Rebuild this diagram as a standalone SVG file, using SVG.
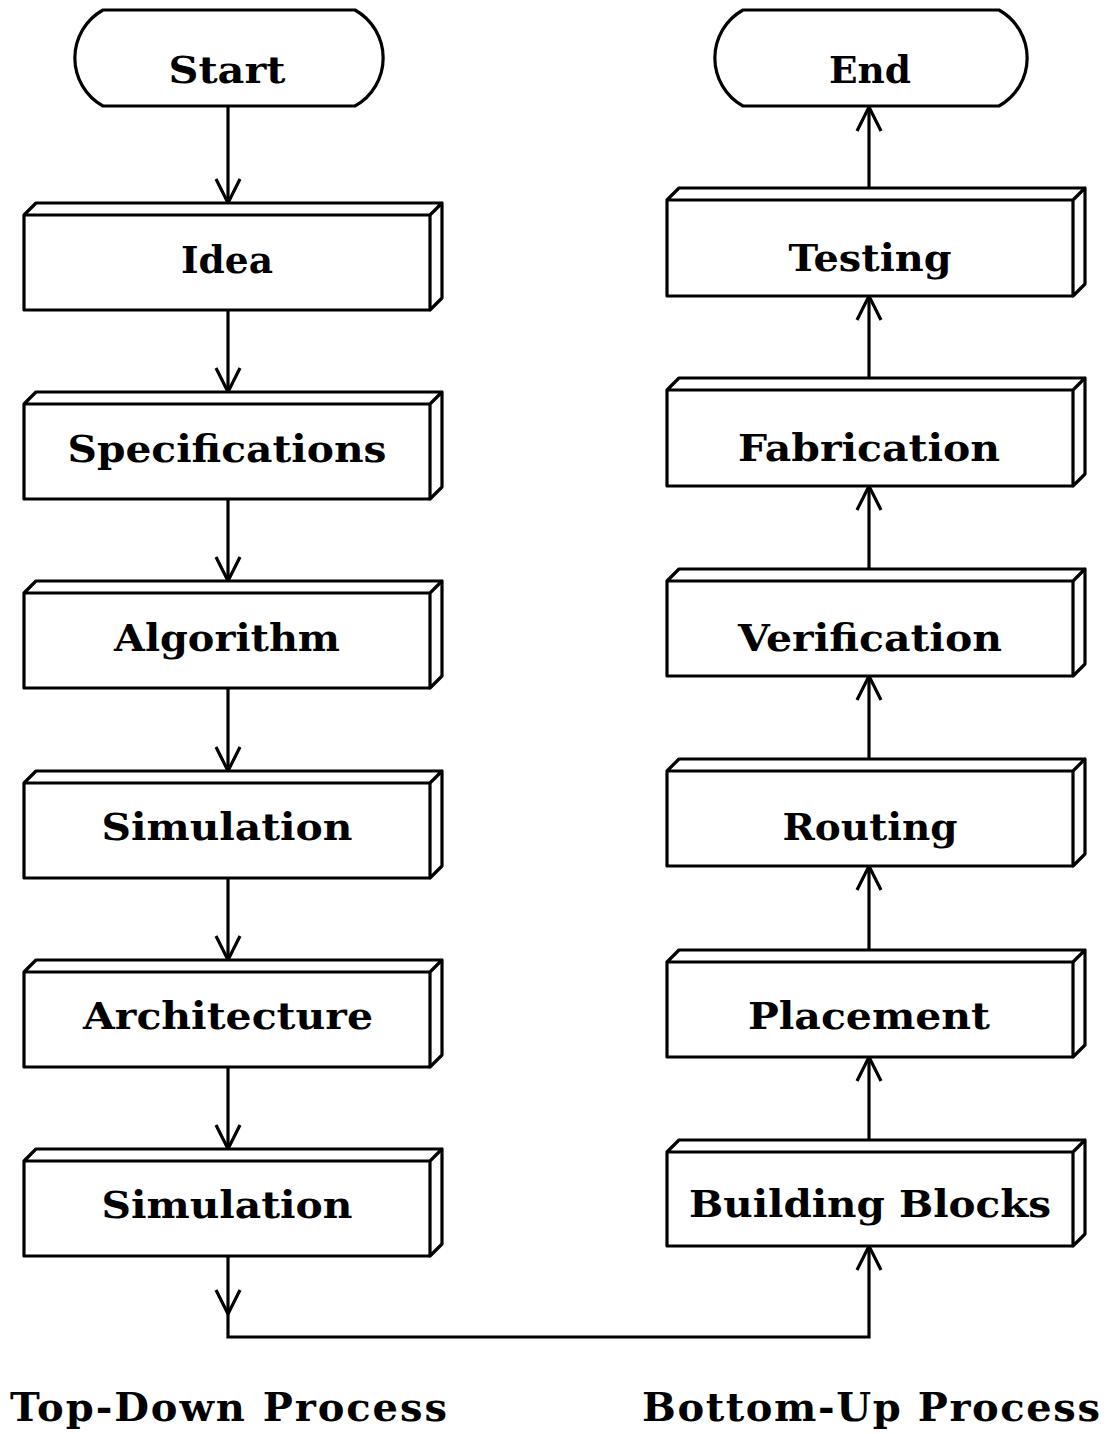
<svg xmlns="http://www.w3.org/2000/svg" width="1112" height="1434" viewBox="0 0 1112 1434">
  <style>
    .shape { fill: #fff; stroke: #000; stroke-width: 3.2; stroke-linejoin: round; }
    .wire { fill: none; stroke: #000; stroke-width: 3.2; }
    .lbl { font-family: "DejaVu Serif", "Liberation Serif", serif; font-weight: bold; font-size: 38px; fill: #000; text-anchor: middle; }
    .cap { font-family: "DejaVu Serif", "Liberation Serif", serif; font-weight: bold; font-size: 40px; fill: #000; }
  </style>
  <defs>
    <!-- open V arrowhead, tip on the path end -->
    <marker id="vhead" markerUnits="userSpaceOnUse" markerWidth="30" markerHeight="30" refX="24" refY="12" orient="auto" overflow="visible">
      <path d="M0,0 L24,12 L0,24" fill="none" stroke="#000" stroke-width="3.2" stroke-linejoin="miter"/>
    </marker>
  </defs>
  <rect width="1112" height="1434" fill="#fff"/>

  <!-- connectors -->
  <g id="connectors">
    <!-- top-down column -->
    <path class="wire" d="M228,106 V203" marker-end="url(#vhead)"/>
    <path class="wire" d="M228,310 V392" marker-end="url(#vhead)"/>
    <path class="wire" d="M228,499 V581" marker-end="url(#vhead)"/>
    <path class="wire" d="M228,688 V771" marker-end="url(#vhead)"/>
    <path class="wire" d="M228,878 V960" marker-end="url(#vhead)"/>
    <path class="wire" d="M228,1067 V1149" marker-end="url(#vhead)"/>
    <!-- hand-over from Simulation to Building Blocks -->
    <path class="wire" d="M228,1256 V1314" marker-end="url(#vhead)"/>
    <path class="wire" d="M228,1312 V1337 H869 V1246" marker-end="url(#vhead)"/>
    <!-- bottom-up column -->
    <path class="wire" d="M869,1140 V1057" marker-end="url(#vhead)"/>
    <path class="wire" d="M869,950 V866" marker-end="url(#vhead)"/>
    <path class="wire" d="M869,759 V676" marker-end="url(#vhead)"/>
    <path class="wire" d="M869,569 V486" marker-end="url(#vhead)"/>
    <path class="wire" d="M869,378 V296" marker-end="url(#vhead)"/>
    <path class="wire" d="M869,188 V107" marker-end="url(#vhead)"/>
  </g>

  <!-- terminals -->
  <g id="start">
    <path class="shape" d="M103,10 H355 A55,55 0 0 1 355,106 H103 A55,55 0 0 1 103,10 Z"/>
    <text class="lbl" x="227" y="83" textLength="117" lengthAdjust="spacingAndGlyphs">Start</text>
  </g>
  <g id="end">
    <path class="shape" d="M743,10 H999 A55,55 0 0 1 999,106 H743 A55,55 0 0 1 743,10 Z"/>
    <text class="lbl" x="870" y="83" textLength="82" lengthAdjust="spacingAndGlyphs">End</text>
  </g>

  <!-- top-down process boxes (front face 406 x 95, depth 12) -->
  <g id="idea">
    <path class="shape" d="M24,215 H430 V310 H24 Z M24,215 L36,203 H442 L430,215 Z M430,215 L442,203 V298 L430,310 Z"/>
    <text class="lbl" x="227" y="273" textLength="92" lengthAdjust="spacingAndGlyphs">Idea</text>
  </g>
  <g id="specifications">
    <path class="shape" d="M24,404 H430 V499 H24 Z M24,404 L36,392 H442 L430,404 Z M430,404 L442,392 V487 L430,499 Z"/>
    <text class="lbl" x="227" y="462" textLength="319" lengthAdjust="spacingAndGlyphs">Specifications</text>
  </g>
  <g id="algorithm">
    <path class="shape" d="M24,593 H430 V688 H24 Z M24,593 L36,581 H442 L430,593 Z M430,593 L442,581 V676 L430,688 Z"/>
    <text class="lbl" x="227" y="651" textLength="226" lengthAdjust="spacingAndGlyphs">Algorithm</text>
  </g>
  <g id="simulation1">
    <path class="shape" d="M24,783 H430 V878 H24 Z M24,783 L36,771 H442 L430,783 Z M430,783 L442,771 V866 L430,878 Z"/>
    <text class="lbl" x="227" y="840" textLength="251" lengthAdjust="spacingAndGlyphs">Simulation</text>
  </g>
  <g id="architecture">
    <path class="shape" d="M24,972 H430 V1067 H24 Z M24,972 L36,960 H442 L430,972 Z M430,972 L442,960 V1055 L430,1067 Z"/>
    <text class="lbl" x="228" y="1029" textLength="290" lengthAdjust="spacingAndGlyphs">Architecture</text>
  </g>
  <g id="simulation2">
    <path class="shape" d="M24,1161 H430 V1256 H24 Z M24,1161 L36,1149 H442 L430,1161 Z M430,1161 L442,1149 V1244 L430,1256 Z"/>
    <text class="lbl" x="227" y="1218" textLength="251" lengthAdjust="spacingAndGlyphs">Simulation</text>
  </g>

  <!-- bottom-up process boxes -->
  <g id="testing">
    <path class="shape" d="M667,200 H1073 V296 H667 Z M667,200 L679,188 H1085 L1073,200 Z M1073,200 L1085,188 V284 L1073,296 Z"/>
    <text class="lbl" x="870" y="271" textLength="163" lengthAdjust="spacingAndGlyphs">Testing</text>
  </g>
  <g id="fabrication">
    <path class="shape" d="M667,390 H1073 V486 H667 Z M667,390 L679,378 H1085 L1073,390 Z M1073,390 L1085,378 V474 L1073,486 Z"/>
    <text class="lbl" x="869" y="461" textLength="262" lengthAdjust="spacingAndGlyphs">Fabrication</text>
  </g>
  <g id="verification">
    <path class="shape" d="M667,581 H1073 V676 H667 Z M667,581 L679,569 H1085 L1073,581 Z M1073,581 L1085,569 V664 L1073,676 Z"/>
    <text class="lbl" x="870" y="651" textLength="264" lengthAdjust="spacingAndGlyphs">Verification</text>
  </g>
  <g id="routing">
    <path class="shape" d="M667,771 H1073 V866 H667 Z M667,771 L679,759 H1085 L1073,771 Z M1073,771 L1085,759 V854 L1073,866 Z"/>
    <text class="lbl" x="870" y="840" textLength="175" lengthAdjust="spacingAndGlyphs">Routing</text>
  </g>
  <g id="placement">
    <path class="shape" d="M667,962 H1073 V1057 H667 Z M667,962 L679,950 H1085 L1073,962 Z M1073,962 L1085,950 V1045 L1073,1057 Z"/>
    <text class="lbl" x="869" y="1029" textLength="242" lengthAdjust="spacingAndGlyphs">Placement</text>
  </g>
  <g id="building-blocks">
    <path class="shape" d="M667,1152 H1073 V1246 H667 Z M667,1152 L679,1140 H1085 L1073,1152 Z M1073,1152 L1085,1140 V1234 L1073,1246 Z"/>
    <text class="lbl" x="870" y="1217" textLength="362" lengthAdjust="spacingAndGlyphs">Building Blocks</text>
  </g>

  <!-- column captions -->
  <text class="cap" x="10" y="1421" textLength="437" lengthAdjust="spacing">Top-Down Process</text>
  <text class="cap" x="642" y="1421" textLength="458" lengthAdjust="spacing">Bottom-Up Process</text>
</svg>
